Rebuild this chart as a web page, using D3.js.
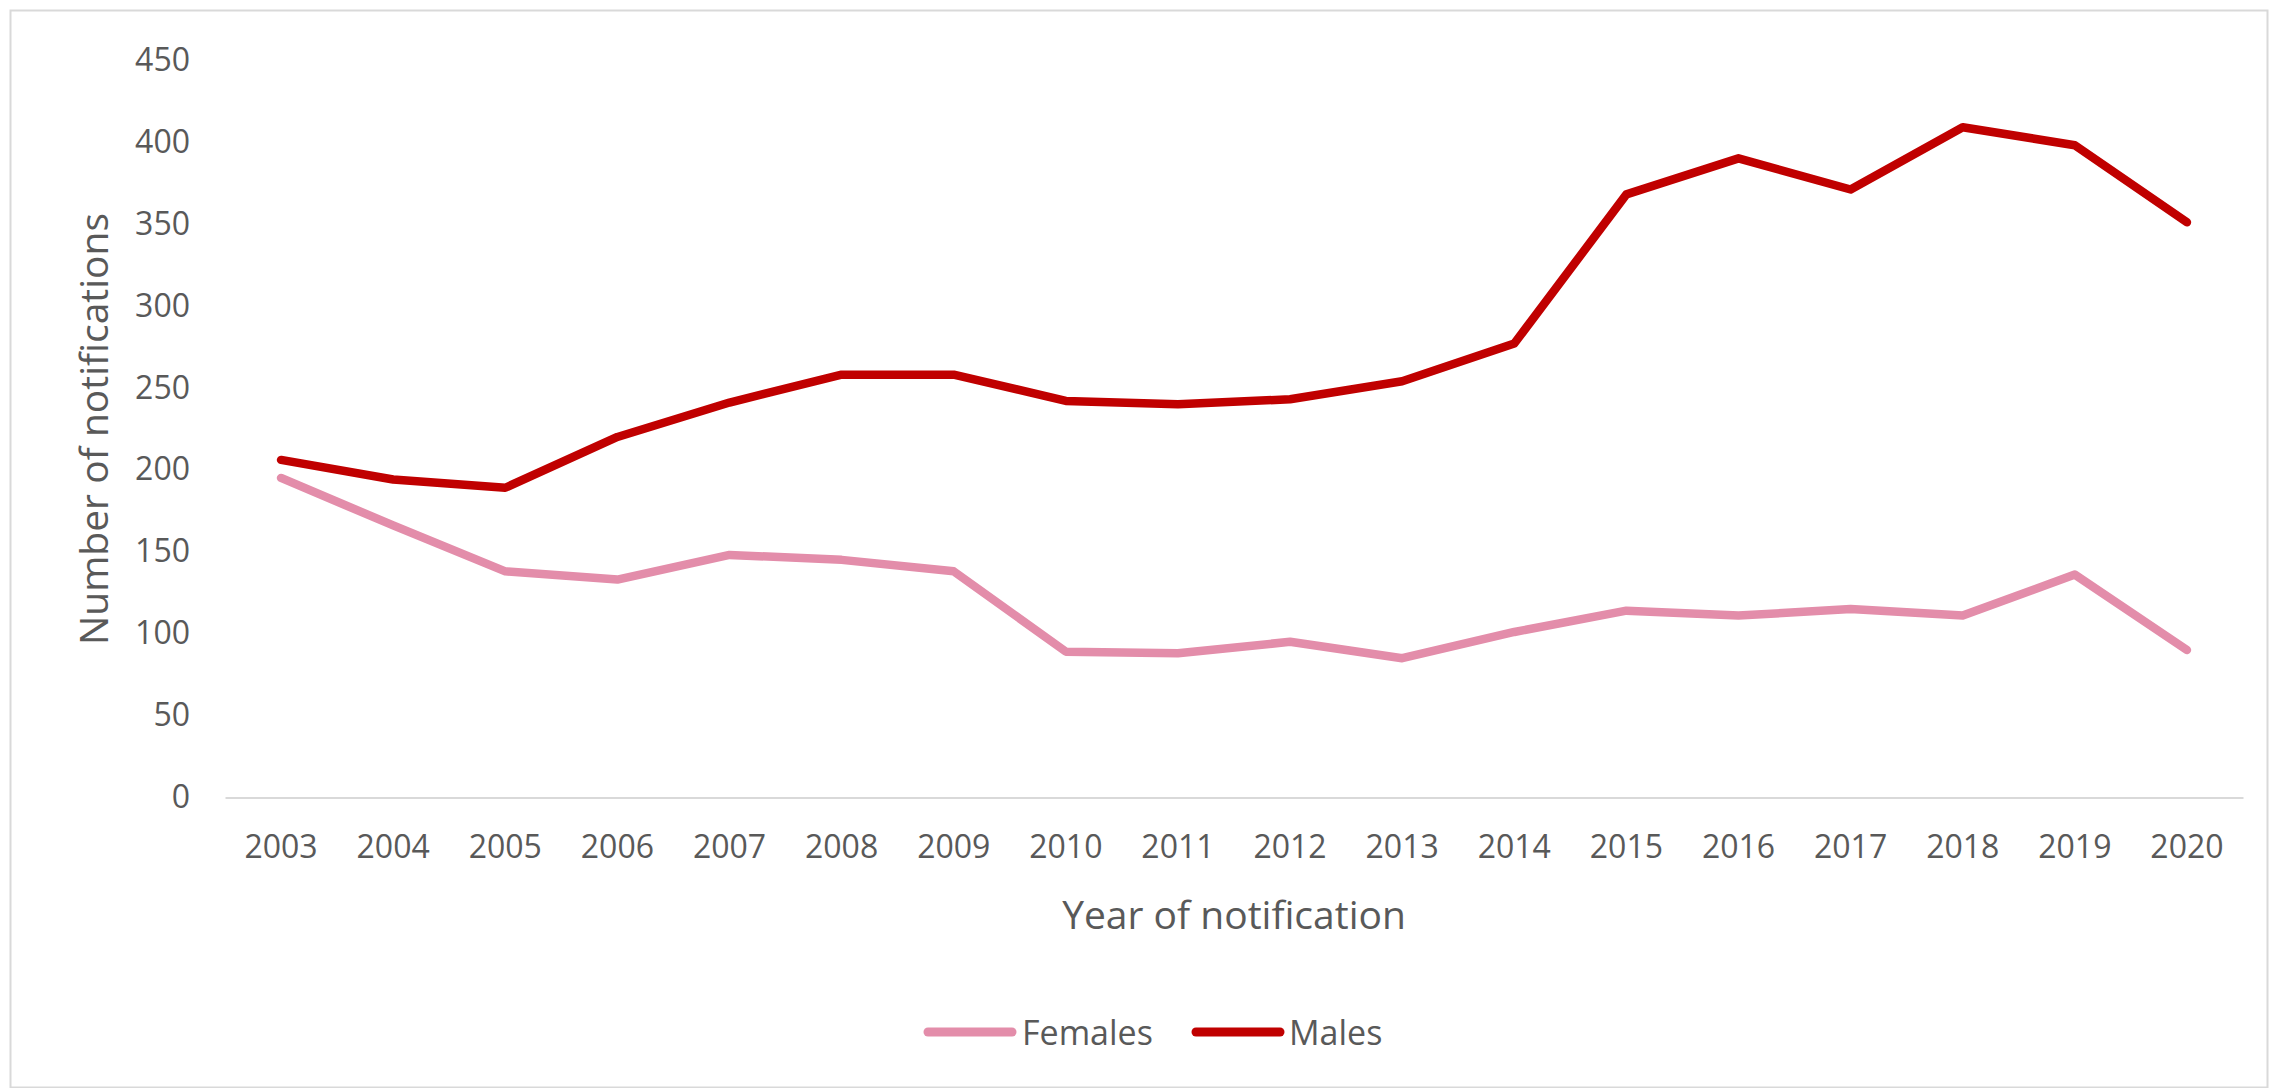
<!DOCTYPE html>
<html>
<head>
<meta charset="utf-8">
<script src="https://cdn.jsdelivr.net/npm/d3@7"></script>
<style>
  html, body { margin: 0; padding: 0; background: #ffffff; }
  svg { display: block; }
  text { font-family: "Open Sans", "Noto Sans", sans-serif; }
</style>
</head>
<body>
<svg id="chart" width="2269" height="1088"></svg>
<script>
const years = ["2003","2004","2005","2006","2007","2008","2009","2010","2011","2012","2013","2014","2015","2016","2017","2018","2019","2020"];
const females = [195, 166, 138, 133, 148, 145, 138, 89, 88, 95, 85, 101, 114, 111, 115, 111, 136, 90];
const males = [206, 194, 189, 220, 241, 258, 258, 242, 240, 243, 254, 277, 368, 390, 371, 409, 398, 351];
const yTicks = [0, 50, 100, 150, 200, 250, 300, 350, 400, 450];
const seriesNames = ["Females", "Males"];
const seriesColors = ["#E38DAA", "#C00000"];

const W = 2269, H = 1088;
const svg = d3.select("#chart");

svg.append("rect").attr("x", 0).attr("y", 0).attr("width", W).attr("height", H).attr("fill", "#ffffff");
svg.append("rect")
  .attr("x", 10.5).attr("y", 10.5)
  .attr("width", W - 12).attr("height", H - 11)
  .attr("fill", "none").attr("stroke", "#d9d9d9").attr("stroke-width", 2);

const x = d3.scaleBand().domain(years).range([225, 2243]);
const y = d3.scaleLinear().domain([0, 450]).range([797.5, 60]);
const cx = d => x(d) + x.bandwidth() / 2;

// Y axis
const yAxis = svg.append("g")
  .attr("transform", "translate(225,0)")
  .call(d3.axisLeft(y).tickValues(yTicks).tickSize(0).tickPadding(35));
yAxis.select(".domain").remove();
yAxis.selectAll("text")
  .attr("font-family", "'Open Sans', sans-serif")
  .attr("font-size", 32).attr("fill", "#595959");

// X axis
const xAxis = svg.append("g")
  .attr("transform", "translate(0,797.5)")
  .call(d3.axisBottom(x).tickSize(0).tickPadding(38));
xAxis.select(".domain").attr("stroke", "#d9d9d9").attr("stroke-width", 2);
xAxis.selectAll("text")
  .attr("font-family", "'Open Sans', sans-serif")
  .attr("font-size", 32).attr("fill", "#595959");

// Lines
const line = d3.line().x((d, i) => cx(years[i])).y(d => y(d));
[females, males].forEach((vals, k) => {
  svg.append("path")
    .datum(vals)
    .attr("d", line)
    .attr("fill", "none")
    .attr("stroke", seriesColors[k])
    .attr("stroke-width", 8.5)
    .attr("stroke-linejoin", "round")
    .attr("stroke-linecap", "round");
});

// Axis titles
svg.append("text")
  .attr("transform", "translate(92,429) rotate(-90)")
  .attr("text-anchor", "middle").attr("dominant-baseline", "central")
  .attr("font-size", 39).attr("fill", "#595959")
  .text("Number of notifications");

svg.append("text")
  .attr("x", 1234).attr("y", 913)
  .attr("text-anchor", "middle").attr("dominant-baseline", "central")
  .attr("font-size", 39).attr("fill", "#595959")
  .text("Year of notification");

// Legend
const legendItems = [
  { name: seriesNames[0], color: seriesColors[0], x0: 928, tx: 1022 },
  { name: seriesNames[1], color: seriesColors[1], x0: 1196, tx: 1289 }
];
const lg = svg.append("g");
legendItems.forEach(it => {
  lg.append("line")
    .attr("x1", it.x0).attr("x2", it.x0 + 84)
    .attr("y1", 1032).attr("y2", 1032)
    .attr("stroke", it.color).attr("stroke-width", 9)
    .attr("stroke-linecap", "round");
  lg.append("text")
    .attr("x", it.tx).attr("y", 1032)
    .attr("dominant-baseline", "central")
    .attr("font-size", 34).attr("fill", "#595959")
    .text(it.name);
});
</script>
</body>
</html>
